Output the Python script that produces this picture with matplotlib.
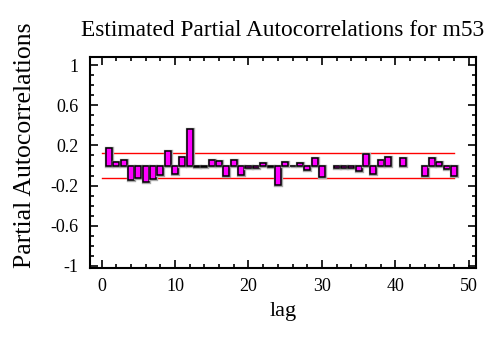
import numpy as np
import matplotlib
matplotlib.use("Agg")
import matplotlib.pyplot as plt
import matplotlib.patheffects as pe
from matplotlib.ticker import MultipleLocator

# partial autocorrelations of m53, lags 1..48 (nan = not drawn)
lags = np.arange(1, 49)
pacf = [0.17, 0.03, 0.05, -0.14, -0.12, -0.16, -0.13, -0.09, 0.14, -0.08,
        0.08, 0.36, -0.01, -0.01, 0.05, 0.04, -0.10, 0.05, -0.09, -0.02,
        -0.02, 0.02, -0.01, -0.19, 0.03, 0.0, 0.02, -0.04, 0.07, -0.11,
        np.nan, -0.02, -0.02, -0.02, -0.05, 0.11, -0.08, 0.05, 0.08, np.nan,
        0.07, np.nan, np.nan, -0.10, 0.07, 0.03, -0.03, -0.10]
limit = 0.125
limit_span = [0, 48]

plt.rcParams['font.family'] = ['Liberation Serif', 'DejaVu Serif']

fig = plt.figure(figsize=(5.01, 3.38), dpi=100)
ax = fig.add_axes([0.1796, 0.2071, 0.7705, 0.6243])

vals = np.array(pacf, dtype=float)
ok = ~np.isnan(vals)
bars = ax.bar(lags[ok], vals[ok], width=0.82, color='#ff00ff',
              edgecolor='black', linewidth=1.1, zorder=3)
for b in bars:
    b.set_path_effects([pe.Stroke(linewidth=2.4, foreground='#a8a8a8'),
                        pe.Normal()])

for s in (limit, -limit):
    ax.plot(limit_span, [s, s], color='red', lw=1.0, zorder=2)

ax.set_xlim(-1.6, 51)
ax.set_ylim(-1.02, 1.08)
ax.xaxis.set_major_locator(MultipleLocator(10))
ax.xaxis.set_minor_locator(MultipleLocator(2))
ax.set_yticks([-1, -0.6, -0.2, 0.2, 0.6, 1])
ax.set_yticklabels(['-1', '-0.6', '-0.2', '0.2', '0.6', '1'])
ax.yaxis.set_minor_locator(MultipleLocator(0.1))
ax.tick_params(which='both', direction='in', top=True, right=True,
               labelsize=13, width=1.2)
ax.tick_params(which='major', length=6)
ax.tick_params(which='minor', length=3)
ax.tick_params(axis='x', pad=7)
ax.tick_params(axis='y', pad=8)
for sp in ax.spines.values():
    sp.set_linewidth(1.5)

ax.set_title('Estimated Partial Autocorrelations for m53', fontsize=16.8, pad=15)
ax.set_xlabel('lag', fontsize=16, labelpad=5)
ax.set_ylabel('Partial Autocorrelations', fontsize=18.5)
ax.yaxis.set_label_coords(-0.14, 0.58)

fig.savefig('out.png', dpi=100)
